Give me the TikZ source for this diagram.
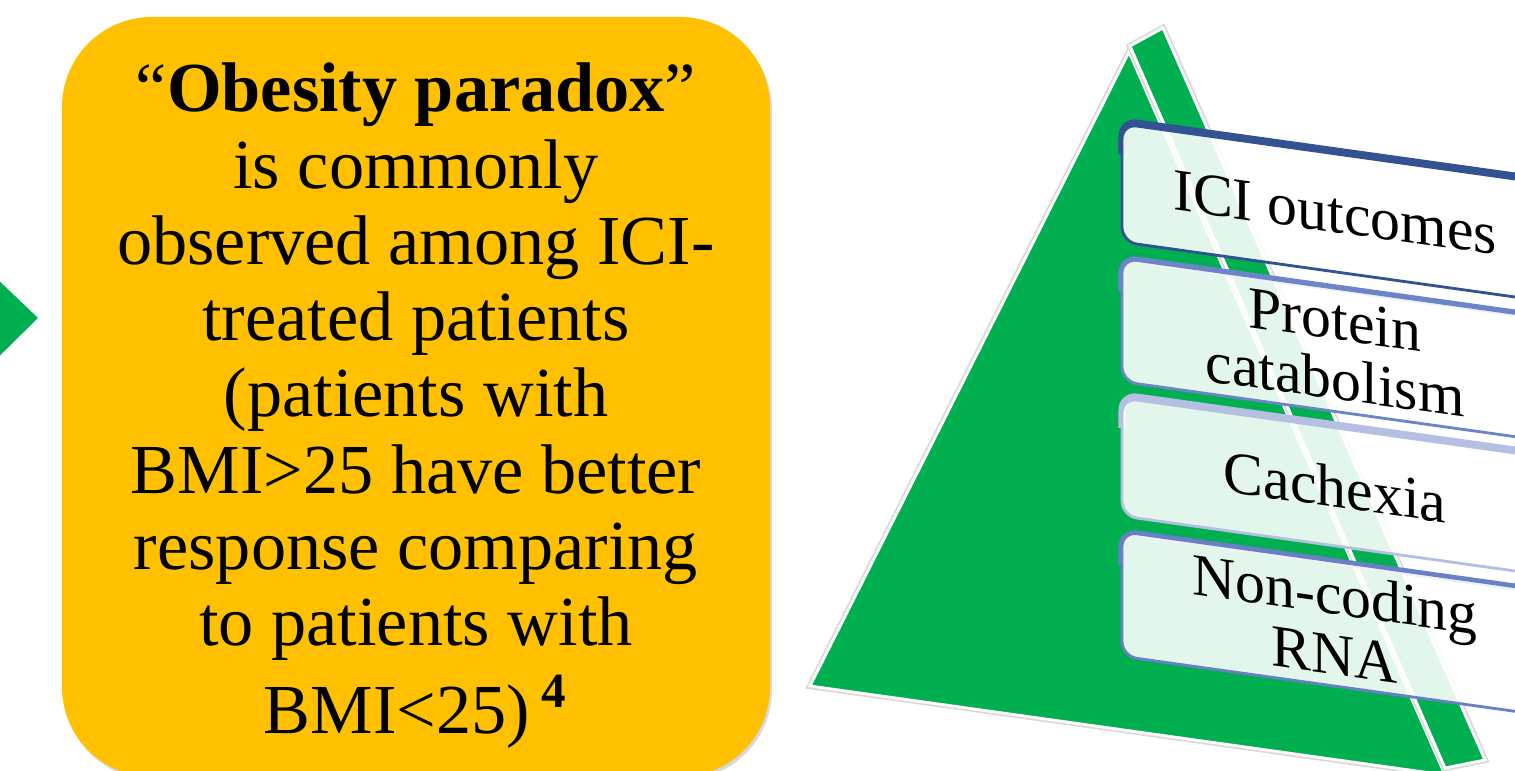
\documentclass[tikz,border=0pt]{standalone}
\usepackage{fontspec}
\setmainfont{Liberation Serif}
\usetikzlibrary{shadows}

\definecolor{gold}{RGB}{255,192,0}
\definecolor{leafgreen}{RGB}{0,176,80}
\definecolor{edgeA}{RGB}{50,82,145}
\definecolor{edgeB}{RGB}{108,132,200}
\definecolor{edgeC}{RGB}{180,191,226}
\definecolor{edgeD}{RGB}{106,128,198}

\tikzset{
  pyrface/.style={fill=leafgreen, draw=white, line width=0.8pt,
    preaction={draw=black!15, line width=1.8pt}},
  tier/.style={rounded corners=0.15cm, fill=white, fill opacity=0.89,
    text opacity=1, line width=0.8pt, minimum width=4.26cm,
    minimum height=1.18cm, align=center, transform shape,
    font=\fontsize{17}{17}\selectfont},
}

\begin{document}
\begin{tikzpicture}
  \useasboundingbox (0,0) rectangle (15.15,7.71);
  \clip (0,0) rectangle (15.15,7.71);

  % arrow tip coming in from the left
  \fill[leafgreen] (-0.3,5.18) -- (0.38,4.53) -- (-0.3,3.86) -- cycle;

  % main statement
  \node[fill=gold, rounded corners=0.9cm, minimum width=7.08cm,
        minimum height=7.6cm,
        drop shadow={shadow xshift=0.02cm, shadow yshift=-0.03cm, opacity=0.3}]
    (paradox) at (4.16,3.74) {};
  \node[align=center, font=\fontsize{20}{21.7}\selectfont]
    (claim) at ([yshift=-0.09cm]paradox.center)
    {“\textbf{Obesity paradox}”\\ is commonly\\ observed among ICI-\\
     treated patients\\ (patients with\\ BMI>25 have better\\
     response comparing\\ to patients with\\[3.4pt]
     BMI<25)\,\textsuperscript{\textbf{4}}};

  % pyramid: front face and side face
  \path[pyrface] (11.29,7.19) -- (8.10,0.85) -- (14.45,-0.04) -- cycle;
  \path[pyrface] (11.30,7.25) -- (11.63,7.43) -- (14.85,0.11) -- (14.45,0.03) -- cycle;

  % tiers laid over the pyramid
  \begin{scope}[shift={(11.22,6.47)}, yslant=-0.14]
    \foreach \i/\name/\edge/\txt in {0/ici/edgeA/ICI outcomes,
        1/protein/edgeB/{Protein\\catabolism},
        2/cachexia/edgeC/Cachexia,
        3/ncrna/edgeD/{Non-coding\\RNA}} {
      \draw[\edge, line width=2pt, rounded corners=0.15cm]
        (0,-1.37*\i-0.3) -- (0,-1.37*\i+0.03) -- (4.4,-1.37*\i+0.03);
      \node[tier, draw=\edge] (\name) at (2.13,-1.37*\i-0.59) {\txt};
    }
  \end{scope}
\end{tikzpicture}
\end{document}
